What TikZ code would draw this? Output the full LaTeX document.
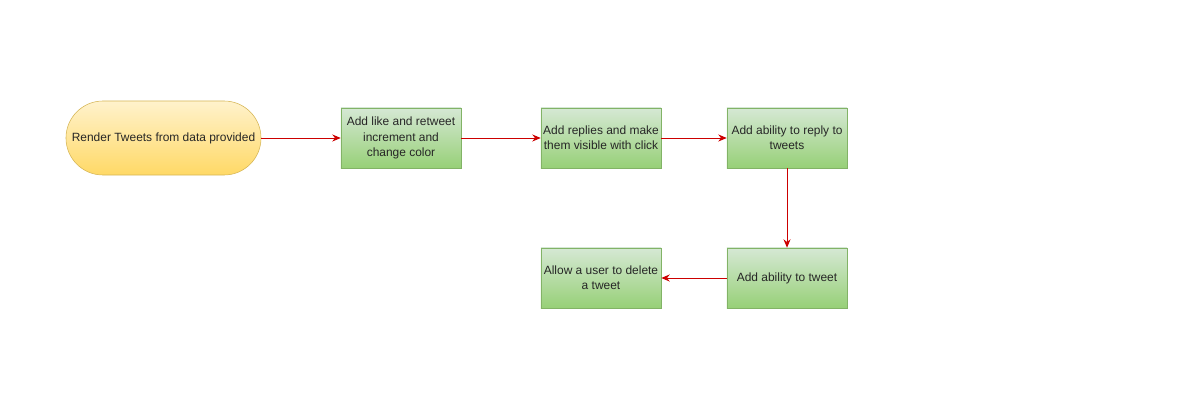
\documentclass[tikz,border=0pt]{standalone}
\usepackage{fontspec}
\setmainfont{Liberation Sans}
\usetikzlibrary{arrows.meta}
\definecolor{gtop}{HTML}{D5E8D4}
\definecolor{gbot}{HTML}{97D077}
\definecolor{gline}{HTML}{82B366}
\definecolor{ytop}{HTML}{FFF2CC}
\definecolor{ybot}{HTML}{FFD966}
\definecolor{yline}{HTML}{D6B656}
\definecolor{flow}{HTML}{CC0000}
\tikzset{
	task/.style={draw=gline, top color=gtop, bottom color=gbot, minimum width=3cm, minimum height=1.5cm, align=center, inner sep=0pt, font=\fontsize{8.5}{10.8}\selectfont, text=black!85},
	startpill/.style={draw=yline, top color=ytop, bottom color=ybot, rounded corners=0.925cm, minimum width=4.875cm, minimum height=1.85cm, align=center, inner sep=0pt, font=\fontsize{8.5}{10.8}\selectfont, text=black!85},
	flowarrow/.style={draw=flow, -{Stealth[length=6pt,width=5pt]}, line width=0.6pt}
}

\begin{document}
\begin{tikzpicture}[x=0.025cm, y=-0.025cm]
	\useasboundingbox (0,0) rectangle (1200,400);

	\node[startpill] (render) at (163.5,138) {Render Tweets from data provided};
	\node[task] (like) at (401,138) {Add like and retweet\\increment and\\change color};
	\node[task] (replies) at (601,138) {Add replies and make\\them visible with click};
	\node[task] (reply) at (787,138) {Add ability to reply to\\tweets};
	\node[task] (tweet) at (787,278) {Add ability to tweet};
	\node[task] (delete) at (601,278) {Allow a user to delete\\a tweet};

	\draw[flowarrow] (render) -- (like);
	\draw[flowarrow] (like) -- (replies);
	\draw[flowarrow] (replies) -- (reply);
	\draw[flowarrow] (reply) -- (tweet);
	\draw[flowarrow] (tweet) -- (delete);
\end{tikzpicture}
\end{document}
